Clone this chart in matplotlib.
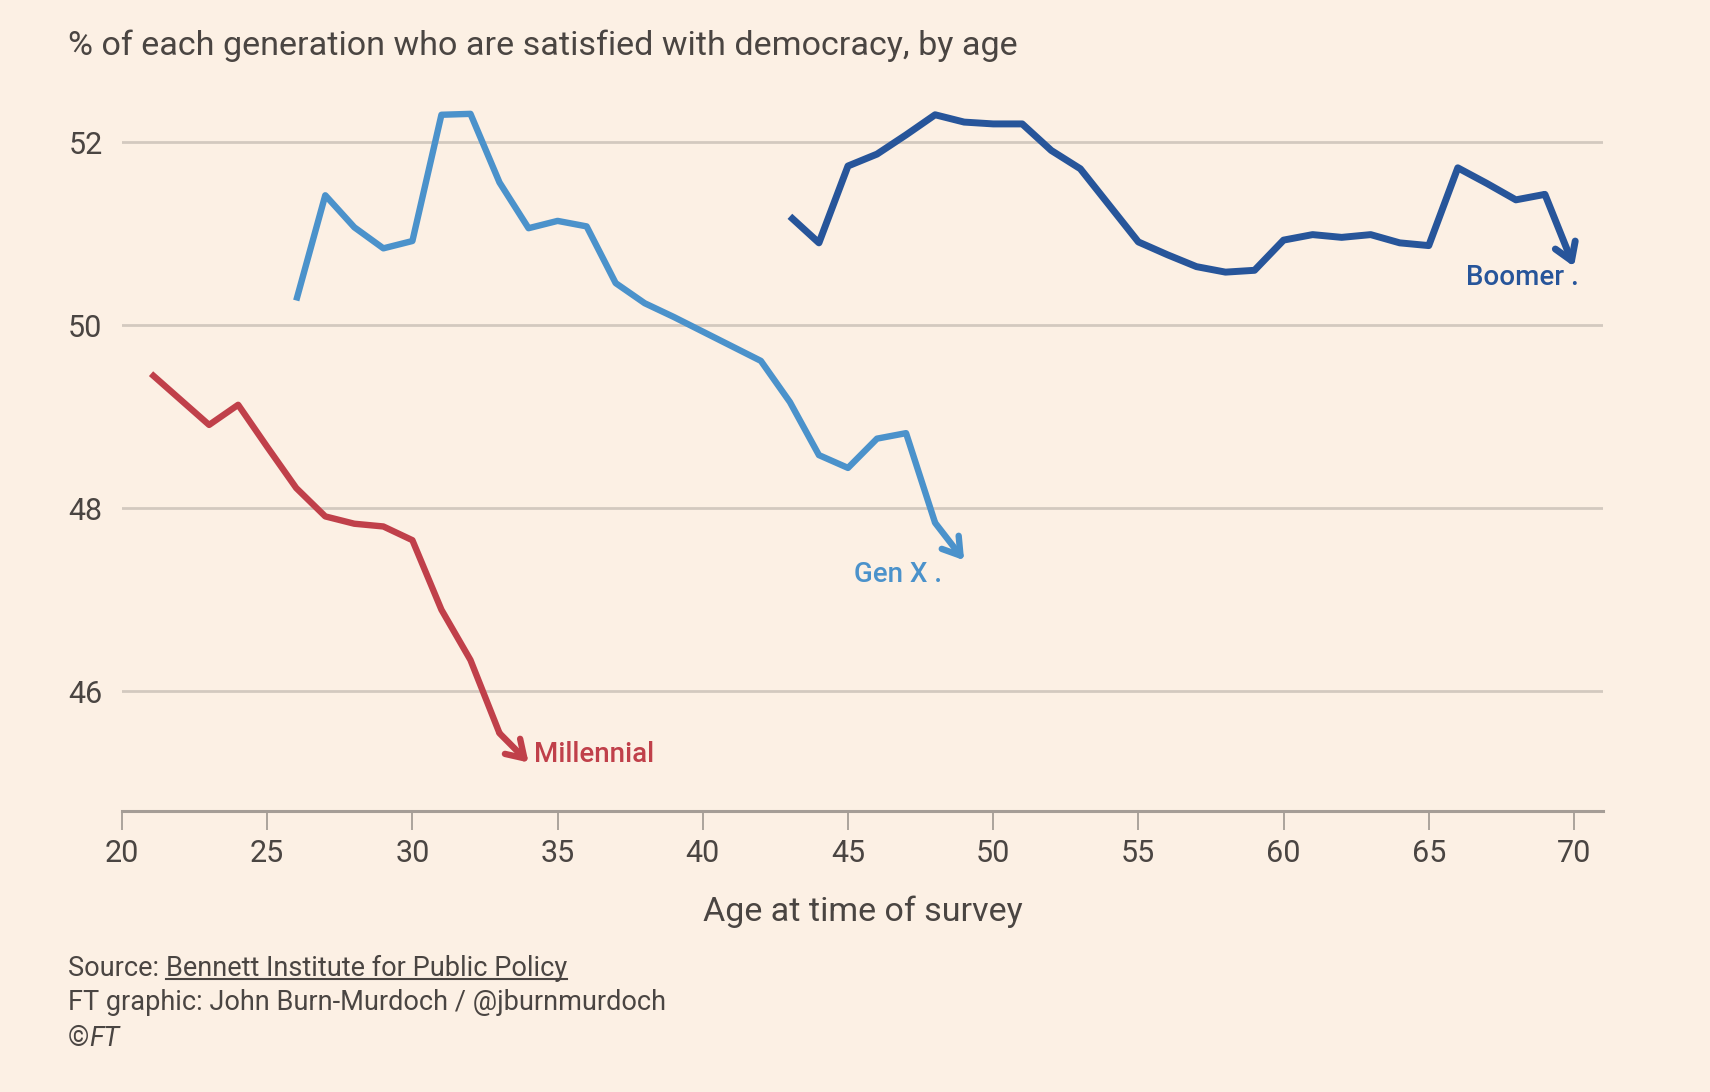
import matplotlib.pyplot as plt
from matplotlib.lines import Line2D

# values
millennial_age = list(range(21, 35))
millennial_pct = [49.47, 49.19, 48.91, 49.13, 48.67, 48.22, 47.91, 47.83, 47.80,
                  47.65, 46.89, 46.34, 45.54, 45.22]

genx_age = list(range(26, 50))
genx_pct = [50.27, 51.42, 51.07, 50.84, 50.92, 52.30, 52.31, 51.56, 51.06, 51.14,
            51.08, 50.46, 50.24, 50.09, 49.93, 49.77, 49.61, 49.16, 48.58, 48.44,
            48.76, 48.82, 47.84, 47.43]

boomer_age = list(range(43, 71))
boomer_pct = [51.19, 50.90, 51.74, 51.87, 52.08, 52.30, 52.22, 52.20, 52.20, 51.91,
              51.71, 51.31, 50.91, 50.77, 50.64, 50.58, 50.60, 50.93, 50.99, 50.96,
              50.99, 50.90, 50.87, 51.72, 51.55, 51.37, 51.43, 50.64]

y_ticks = [46, 48, 50, 52]
x_ticks = [20, 25, 30, 35, 40, 45, 50, 55, 60, 65, 70]

BG = "#fcf0e4"
TEXT = "#4a4542"
GRID = "#d3c9bf"
AXIS = "#a59d96"
RED = "#c0404a"
LIGHT_BLUE = "#4b92cb"
DARK_BLUE = "#27559a"

plt.rcParams["font.family"] = ["Roboto", "DejaVu Sans"]

W, H = 1710, 1092
fig = plt.figure(figsize=(W / 100, H / 100), dpi=100, facecolor=BG)
ax = fig.add_axes([122 / W, 1 - 811 / H, (1603 - 122) / W, (811 - 80) / H])
ax.set_facecolor(BG)

ax.set_xlim(20, 71)
ax.set_ylim(44.69, 52.68)


def draw_series(ages, pct, color, lw):
    ax.plot(ages[:-1], pct[:-1], color=color, lw=lw,
            solid_joinstyle="round", solid_capstyle="butt", zorder=3)
    ax.annotate("", xy=(ages[-1], pct[-1]), xytext=(ages[-2], pct[-2]),
                arrowprops=dict(arrowstyle="->,head_length=0.55,head_width=0.35",
                                color=color, lw=lw, shrinkA=0, shrinkB=0,
                                mutation_scale=22, joinstyle="round"),
                zorder=3)


draw_series(millennial_age, millennial_pct, RED, 4.6)
draw_series(genx_age, genx_pct, LIGHT_BLUE, 4.6)
draw_series(boomer_age, boomer_pct, DARK_BLUE, 5.0)

ax.text(34.2, 45.31, "Millennial", color=RED, fontsize=20, fontweight="medium",
        ha="left", va="center")
ax.text(48.25, 47.28, "Gen X .", color=LIGHT_BLUE, fontsize=20, fontweight="medium",
        ha="right", va="center")
ax.text(70.18, 50.52, "Boomer .", color=DARK_BLUE, fontsize=20, fontweight="medium",
        ha="right", va="center")

ax.set_yticks(y_ticks)
ax.set_xticks(x_ticks)
ax.yaxis.grid(True, color=GRID, lw=2)
ax.set_axisbelow(True)
for side in ["top", "right", "left"]:
    ax.spines[side].set_visible(False)
ax.spines["bottom"].set_color(AXIS)
ax.spines["bottom"].set_linewidth(2.2)
ax.tick_params(axis="y", length=0, pad=14, labelsize=22, labelcolor=TEXT)
ax.tick_params(axis="x", length=14, width=1.3, color=AXIS, pad=6,
               labelsize=22, labelcolor=TEXT)
ax.set_xlabel("Age at time of survey", fontsize=24.5, color=TEXT, labelpad=20)

fig.text(68 / W, 1 - 46 / H, "% of each generation who are satisfied with democracy, by age",
         fontsize=24.6, color=TEXT, ha="left", va="center")

# footer
foot_size = 19.5
src = fig.text(68 / W, 1 - 968 / H, "Source: ", fontsize=foot_size, color=TEXT,
               ha="left", va="center")
fig.canvas.draw()
renderer = fig.canvas.get_renderer()
bb = src.get_window_extent(renderer)
link = fig.text(bb.x1 / W, 1 - 968 / H, "Bennett Institute for Public Policy",
                fontsize=foot_size, color=TEXT, ha="left", va="center")
lb = link.get_window_extent(renderer)
fig.add_artist(Line2D([lb.x0 / W, lb.x1 / W], [(lb.y0 + 3) / H, (lb.y0 + 3) / H],
                      color=TEXT, lw=1.5))
fig.text(68 / W, 1 - 1003 / H, "FT graphic: John Burn-Murdoch / @jburnmurdoch",
         fontsize=foot_size, color=TEXT, ha="left", va="center")
c = fig.text(68 / W, 1 - 1039 / H, "©", fontsize=foot_size, color=TEXT,
             ha="left", va="center")
cb = c.get_window_extent(renderer)
fig.text(cb.x1 / W, 1 - 1039 / H, "FT", fontsize=foot_size, color=TEXT,
         style="italic", ha="left", va="center")

fig.savefig("out.png", dpi=100, facecolor=BG)
plt.close(fig)
